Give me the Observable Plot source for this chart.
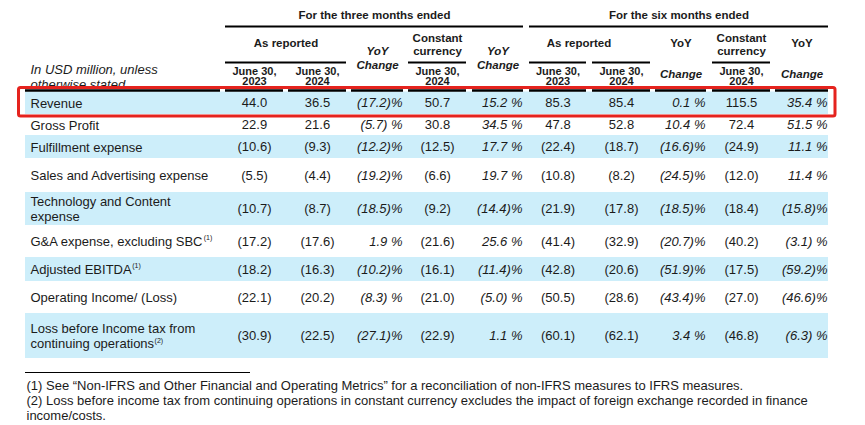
<!DOCTYPE html>
<html><head><meta charset="utf-8">
<script src="https://cdn.jsdelivr.net/npm/d3@7"></script>
<script src="https://cdn.jsdelivr.net/npm/@observablehq/plot@0.6"></script>
<style>body{margin:0;background:#fff;}</style>
</head><body><div id="chart"></div>
<script>
// ---------- DATA ----------
const rowLabels = ["Revenue","Gross Profit","Fulfillment expense","Sales and Advertising expense","Technology and Content\nexpense","G&A expense, excluding SBC","Adjusted EBITDA","Operating Income/ (Loss)","Loss before Income tax from\ncontinuing operations"];
const rowNotes = ["","","","","","(1)","(1)","","(2)"];
const reported3m2023 = [44.0,22.9,-10.6,-5.5,-10.7,-17.2,-18.2,-22.1,-30.9];
const reported3m2024 = [36.5,21.6,-9.3,-4.4,-8.7,-17.6,-16.3,-20.2,-22.5];
const yoy3m = [-17.2,-5.7,-12.2,-19.2,-18.5,1.9,-10.2,-8.3,-27.1];
const constant3m2024 = [50.7,30.8,-12.5,-6.6,-9.2,-21.6,-16.1,-21.0,-22.9];
const yoyConstant3m = [15.2,34.5,17.7,19.7,-14.4,25.6,-11.4,-5.0,1.1];
const reported6m2023 = [85.3,47.8,-22.4,-10.8,-21.9,-41.4,-42.8,-50.5,-60.1];
const reported6m2024 = [85.4,52.8,-18.7,-8.2,-17.8,-32.9,-20.6,-28.6,-62.1];
const yoy6m = [0.1,10.4,-16.6,-24.5,-18.5,-20.7,-51.9,-43.4,3.4];
const constant6m2024 = [115.5,72.4,-24.9,-12.0,-18.4,-40.2,-17.5,-27.0,-46.8];
const yoyConstant6m = [35.4,51.5,11.1,11.4,-15.8,-3.1,-59.2,-46.6,-6.3];

const stubHeader = "In USD million, unless\notherwise stated";
const groupHeaders = ["For the three months ended","For the six months ended"];
const dateHeader = ["June 30,\n2023","June 30,\n2024"];
const footnotes = [
  "(1) See \u201CNon-IFRS and Other Financial and Operating Metrics\u201D for a reconciliation of non-IFRS measures to IFRS measures.",
  "(2) Loss before income tax from continuing operations in constant currency excludes the impact of foreign exchange recorded in finance",
  "income/costs."
];

// ---------- LAYOUT ----------
const colLeft  = [225,288,351,408,472,529,592,655,712,775];
const colRight = [283,346,403,466,523,586,650,706,770,828];
const colMid = colLeft.map((l,i)=>(l+colRight[i])/2);
const rowEdges = [91.5,114,135,158,192,225,257,281,313,358];
const rowMid = rowLabels.map((_,i)=>(rowEdges[i]+rowEdges[i+1])/2);
const stubX = 30, tableLeft = 25;
const ink = "#1b1b1b", band = "#cdeefa", red = "#e5231e";
const labelLH = 1.08;

const columns = [
  {v: reported3m2023, kind:"amt"}, {v: reported3m2024, kind:"amt"}, {v: yoy3m, kind:"pct"},
  {v: constant3m2024, kind:"amt"}, {v: yoyConstant3m, kind:"pct"},
  {v: reported6m2023, kind:"amt"}, {v: reported6m2024, kind:"amt"}, {v: yoy6m, kind:"pct"},
  {v: constant6m2024, kind:"amt"}, {v: yoyConstant6m, kind:"pct"}
];
const fmtAmt = v => v < 0 ? `(${Math.abs(v).toFixed(1)})` : v.toFixed(1);
const fmtPct = v => { const a = Math.abs(v).toFixed(1); return v < 0 ? (a.length >= 4 ? `(${a})%` : `(${a}) %`) : `${a} %`; };

const cells = [];
columns.forEach((c, ci) => c.v.forEach((v, ri) => cells.push({
  kind: c.kind, x: c.kind === "amt" ? colMid[ci] : colRight[ci] - 1, y: rowMid[ri],
  text: c.kind === "amt" ? fmtAmt(v) : fmtPct(v)
})));

const bands = rowLabels.map((l,i)=>({i, y1: rowEdges[i], y2: rowEdges[i+1]})).filter(d=>d.i%2===0);
const labels = rowLabels.map((l,i)=>({text:l, x: stubX, y: rowMid[i]}));

// superscript notes
const ctx = document.createElement("canvas").getContext("2d");
ctx.font = "13px 'Liberation Sans'";
const notes = rowLabels.map((l,i)=>{
  const lines = l.split("\n"); const last = lines[lines.length-1];
  const yLast = rowMid[i] + (lines.length-1) * 13 * labelLH / 2;
  return {text: rowNotes[i], x: stubX + ctx.measureText(last).width + 0.5, y: yLast - (lines.length > 1 ? 2.5 : 4)};
}).filter(d=>d.text);

// header texts
const span = (a,b) => (colLeft[a]+colRight[b])/2;
const hdrBold = [
  {text: groupHeaders[0], x: span(0,4), y: 15},
  {text: groupHeaders[1], x: span(5,9), y: 15},
  {text: "As reported", x: span(0,1), y: 43},
  {text: "As reported", x: span(5,6) - 11, y: 43},
  {text: "YoY", x: colMid[7], y: 43},
  {text: "YoY", x: colMid[9], y: 43}
];
const hdrCurrency = [3,8].map(c=>({text:"Constant\ncurrency", x: colMid[c], y: 43.5}));
const hdrYoYChange = [2,4].map(c=>({text:"YoY\nChange", x: colMid[c], y: 57}));
const hdrChange = [7,9].map(c=>({text:"Change", x: colMid[c], y: 74}));
const hdrDates = [0,1,3,5,6,8].map((c,k)=>({text: dateHeader[[0,1,1,0,1,1][k]], x: colMid[c], y: 76}));

// rules
const rules = [
  {y: 26, x1: colLeft[0], x2: colRight[4], w: 2},
  {y: 26, x1: colLeft[5], x2: colRight[9], w: 2},
  {y: 62, x1: colLeft[0], x2: colRight[1], w: 2},
  {y: 62, x1: colLeft[3], x2: colRight[3], w: 2},
  {y: 62, x1: colLeft[5], x2: colRight[5], w: 2},
  {y: 62, x1: colLeft[6], x2: colRight[6], w: 2},
  {y: 62, x1: colLeft[8], x2: colRight[8], w: 2},
  {y: 90, x1: tableLeft, x2: colLeft[0] - 5, w: 2.5},
  ...colLeft.map((l,i)=>({y: 90, x1: l, x2: colRight[i], w: 2.5})),
  {y: 372, x1: tableLeft, x2: 250, w: 1}
];

const foot = footnotes.map((t,i)=>({text:t, x: 26, y: [385,400,415][i]}));

const font = "'Liberation Sans', Arial, sans-serif";
const plot = Plot.plot({
  width: 865, height: 425, margin: 0,
  x: {domain: [0, 865], range: [0, 865], axis: null},
  y: {domain: [0, 425], range: [0, 425], axis: null},
  style: {fontFamily: font, background: "#fff", color: ink},
  marks: [
    Plot.text([{text: stubHeader, x: stubX, y: 76.5}], {x:"x", y:"y", text:"text", textAnchor:"start", fontSize: 13, fontStyle:"italic", lineHeight: 1.1, fill: ink}),
    Plot.rect(bands, {x1: tableLeft, x2: colRight[9], y1: "y1", y2: "y2", fill: band}),
    Plot.ruleY(rules, {y: "y", x1: "x1", x2: "x2", strokeWidth: "w", stroke: "#000"}),
    Plot.text(hdrBold, {x:"x", y:"y", text:"text", fontSize: 11.5, fontWeight: "bold", fill: ink}),
    Plot.text(hdrCurrency, {x:"x", y:"y", text:"text", fontSize: 11.5, fontWeight: "bold", lineHeight: 1.13, fill: ink}),
    Plot.text(hdrYoYChange, {x:"x", y:"y", text:"text", fontSize: 11.5, fontWeight: "bold", fontStyle:"italic", lineHeight: 1.2, fill: ink}),
    Plot.text(hdrChange, {x:"x", y:"y", text:"text", fontSize: 11.5, fontWeight: "bold", fontStyle:"italic", fill: ink}),
    Plot.text(hdrDates, {x:"x", y:"y", text:"text", fontSize: 11, fontWeight: "bold", lineHeight: 0.95, fill: ink}),
    Plot.text(labels, {x:"x", y:"y", text:"text", textAnchor:"start", fontSize: 13, lineHeight: labelLH, fill: ink}),
    Plot.text(notes, {x:"x", y:"y", text:"text", textAnchor:"start", fontSize: 7, fill: ink}),
    Plot.text(cells.filter(d=>d.kind==="amt"), {x:"x", y:"y", text:"text", fontSize: 13, fill: ink}),
    Plot.text(cells.filter(d=>d.kind==="pct"), {x:"x", y:"y", text:"text", textAnchor:"end", fontSize: 13, fontStyle:"italic", fill: ink}),
    Plot.rect([{x1: 18.5, x2: colRight[9] + 7, y1: rowEdges[0] - 4, y2: rowEdges[1] + 2}], {x1:"x1", x2:"x2", y1:"y1", y2:"y2", fill:"none", stroke: red, strokeWidth: 3, rx: 2}),
    Plot.text(foot, {x:"x", y:"y", text:"text", textAnchor:"start", fontSize: 13, fill: ink})
  ]
});
document.getElementById("chart").appendChild(plot);
</script>
</body></html>
